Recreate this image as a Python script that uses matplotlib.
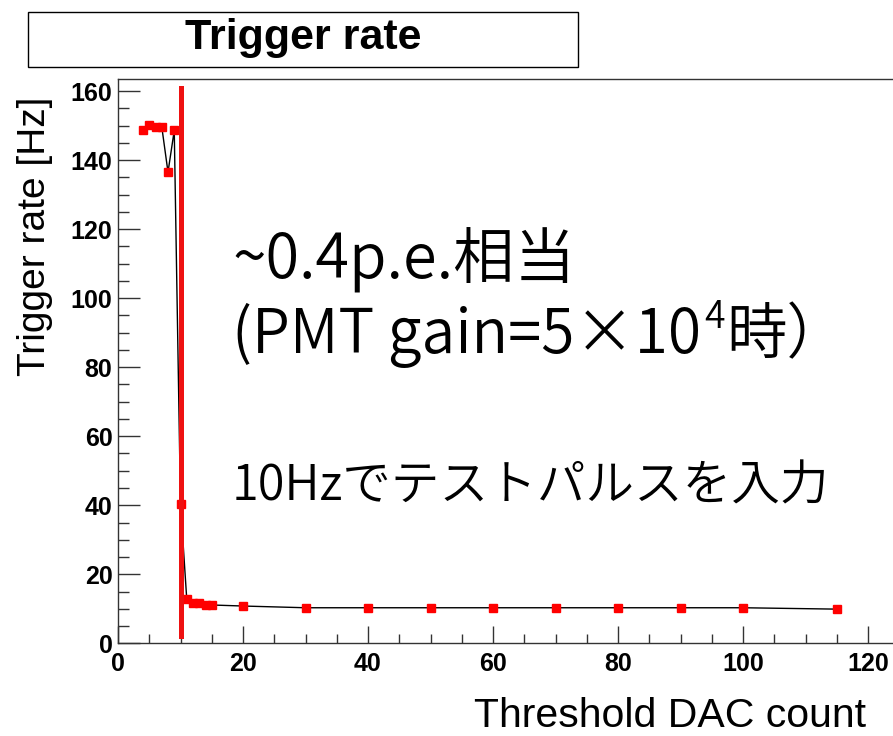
import matplotlib
matplotlib.use("Agg")
import matplotlib.pyplot as plt
from matplotlib.patches import Rectangle
from matplotlib.ticker import MultipleLocator

# ==========================
# Data
# ==========================

threshold = [4, 5, 6, 7, 8, 9, 10, 11, 12, 13, 14, 15, 20, 30, 40, 50, 60, 70, 80, 90, 100, 115]
rate = [148.6, 150.2, 149.7, 149.7, 136.5, 148.6, 40.4, 12.8, 11.8, 11.8, 11.1, 11.1,
        10.8, 10.3, 10.3, 10.3, 10.3, 10.3, 10.3, 10.3, 10.3, 9.9]

cut_x = 10
cut_y = [2, 161]

jp = ["Noto Sans CJK JP", "DejaVu Sans"]
latin = "Liberation Sans"
jp_weight = 350

# ==========================
# Figure
# ==========================

fig = plt.figure(figsize=(8.93, 7.36), dpi=100)
ax = fig.add_axes([118 / 893, 1 - 643.3 / 736, 1 - 118 / 893, (643.3 - 79) / 736])

ax.plot(threshold, rate, color="black", lw=1.0, zorder=2)
ax.plot(threshold, rate, ls="none", marker="s", ms=5.5, color="red", mec="red", zorder=3)
ax.plot([cut_x, cut_x], cut_y, color="#ee1111", lw=3.6, zorder=4)

ax.set_xlim(0, 124)
ax.set_ylim(0, 163.5)

ax.xaxis.set_major_locator(MultipleLocator(20))
ax.xaxis.set_minor_locator(MultipleLocator(5))
ax.yaxis.set_major_locator(MultipleLocator(20))
ax.yaxis.set_minor_locator(MultipleLocator(5))

ax.tick_params(axis="x", which="major", direction="in", length=12, width=1, pad=6, color="#333333")
ax.tick_params(axis="x", which="minor", direction="in", length=6.5, width=1, color="#333333")
ax.tick_params(axis="y", which="major", direction="in", length=16, width=1, pad=4, color="#333333")
ax.tick_params(axis="y", which="minor", direction="in", length=8, width=1, color="#333333")
ax.tick_params(top=False, right=False)

for lab in ax.get_xticklabels() + ax.get_yticklabels():
    lab.set_fontfamily(latin)
    lab.set_fontweight("bold")
    lab.set_fontsize(18)

for side in ["left", "bottom", "top"]:
    ax.spines[side].set_color("#333333")
    ax.spines[side].set_linewidth(1)
ax.spines["right"].set_visible(False)

# axis titles
fig.text(35 / 893, 1 - 236 / 736, "Trigger rate [Hz]", rotation=90, ha="center", va="center",
         fontsize=28, family=latin)
fig.text(866 / 893, 1 - 716 / 736, "Threshold DAC count", ha="right", va="center",
         fontsize=29.5, family=latin)

# title box
fig.patches.append(Rectangle((28 / 893, 1 - 67 / 736), 550 / 893, 55 / 736,
                             transform=fig.transFigure, fill=True, facecolor="white",
                             edgecolor="black", lw=1))
fig.text(303 / 893, 1 - 38 / 736, "Trigger rate", ha="center", va="center",
         fontsize=31, fontweight="bold", family=latin)

# annotations
fig.text(232 / 893, 1 - 278 / 736, "~0.4p.e.相当", ha="left", va="baseline",
         fontsize=44, family=jp, fontweight=jp_weight)

base2 = 1 - 353 / 736
t_a = fig.text(232 / 893, base2, "(PMT gain=5×10", ha="left", va="baseline",
               fontsize=43.5, family=jp, fontweight=jp_weight)
t_4 = ax.annotate("4", xy=(1, base2 + 25 / 736), xycoords=(t_a, "figure fraction"),
                  xytext=(2, 0), textcoords="offset points", ha="left", va="baseline",
                  fontsize=27, family=jp, fontweight=jp_weight, annotation_clip=False)
ax.annotate("時）", xy=(1, base2), xycoords=(t_4, "figure fraction"),
            xytext=(1, 0), textcoords="offset points", ha="left", va="baseline",
            fontsize=43.5, family=jp, fontweight=jp_weight, annotation_clip=False)

fig.text(232 / 893, 1 - 500 / 736, "10Hzでテストパルスを入力", ha="left", va="baseline",
         fontsize=35, family=jp, fontweight=jp_weight)

plt.savefig("out.png", dpi=100)
